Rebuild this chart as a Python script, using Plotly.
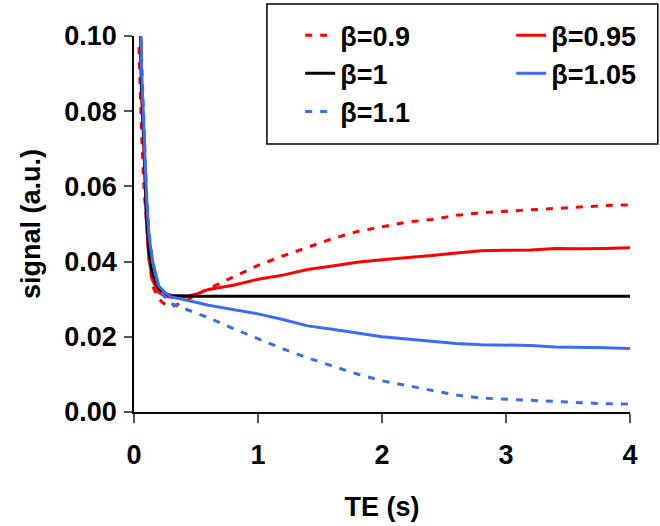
import plotly.graph_objects as go

te = [0.04, 0.06, 0.08, 0.1, 0.12, 0.15, 0.2, 0.25, 0.3, 0.4, 0.5, 0.6, 0.8, 1.0,
      1.2, 1.4, 1.6, 1.8, 2.0, 2.2, 2.4, 2.6, 2.8, 3.0, 3.2, 3.4, 3.6, 3.8, 4.0]

sig_b090 = [0.097, 0.075, 0.060, 0.049, 0.041, 0.0335, 0.030, 0.0286, 0.0280, 0.0292, 0.0312, 0.0328,
            0.0360, 0.0390, 0.0415, 0.0438, 0.0461, 0.0480, 0.0493, 0.0505, 0.0512, 0.0523, 0.0530,
            0.0534, 0.0539, 0.0541, 0.0547, 0.0549, 0.0551]
sig_b095 = [0.120, 0.085, 0.070, 0.051, 0.041, 0.035, 0.0318, 0.0308, 0.0305, 0.0306, 0.0313, 0.0326,
            0.0337, 0.0353, 0.0364, 0.0379, 0.0388, 0.0398, 0.0405, 0.0410, 0.0416, 0.0423, 0.0429,
            0.0430, 0.0431, 0.0435, 0.0434, 0.0435, 0.0437]
sig_b100 = [0.125, 0.088, 0.072, 0.053, 0.043, 0.0365, 0.0328, 0.0315, 0.0310, 0.0308, 0.0308, 0.0308,
            0.0308, 0.0308, 0.0308, 0.0308, 0.0308, 0.0308, 0.0308, 0.0308, 0.0308, 0.0308, 0.0308,
            0.0308, 0.0308, 0.0308, 0.0308, 0.0308, 0.0308]
sig_b105 = [0.130, 0.092, 0.075, 0.058, 0.047, 0.040, 0.0335, 0.0318, 0.0306, 0.0300, 0.0292, 0.0284,
            0.0272, 0.0261, 0.0246, 0.0229, 0.0220, 0.0209, 0.0200, 0.0194, 0.0187, 0.0182, 0.0179,
            0.0178, 0.0177, 0.0173, 0.0173, 0.0171, 0.0169]
sig_b110 = [0.135, 0.095, 0.077, 0.059, 0.048, 0.040, 0.033, 0.0305, 0.0288, 0.0276, 0.0264, 0.0251,
            0.0222, 0.0195, 0.0168, 0.0144, 0.0122, 0.0101, 0.0083, 0.0070, 0.0057, 0.0045, 0.0037,
            0.0034, 0.0030, 0.0026, 0.0024, 0.0022, 0.0021]

series_names = ["β=0.9", "β=0.95", "β=1", "β=1.05", "β=1.1"]
series_vals = [sig_b090, sig_b095, sig_b100, sig_b105, sig_b110]
colors = ["#ff0000", "#ff0000", "#000000", "#3a6cf4", "#3a6cf4"]
dashes = ["7px,8px", "solid", "solid", "solid", "7px,8px"]

x_ticks = [0, 1, 2, 3, 4]
y_ticks = [0.00, 0.02, 0.04, 0.06, 0.08, 0.10]
y_tick_labels = ["0.00", "0.02", "0.04", "0.06", "0.08", "0.10"]

FONT = "Liberation Sans, Arial, sans-serif"
FS = 27

fig = go.Figure()
for name, vals, col, dsh in zip(series_names, series_vals, colors, dashes):
    fig.add_trace(go.Scatter(x=te, y=vals, mode="lines", name=name,
                             line=dict(color=col, width=3, dash=dsh)))

fig.update_layout(
    width=660, height=526,
    margin=dict(l=134, r=30, t=36, b=114, autoexpand=False),
    paper_bgcolor="white", plot_bgcolor="white",
    font=dict(family=FONT, size=FS, color="black", weight="bold"),
    legend=dict(orientation="h", x=0.335, y=1.066, xanchor="left", yanchor="top",
                entrywidth=166, borderwidth=0, bgcolor="rgba(0,0,0,0)",
                font=dict(family=FONT, size=FS, weight="bold")),
    shapes=[dict(type="rect", xref="paper", yref="paper", x0=0.268, x1=1.056,
                 y0=0.713, y1=1.085, line=dict(color="black", width=1.5),
                 fillcolor="rgba(0,0,0,0)", layer="above")],
    xaxis=dict(range=[0, 4], tickvals=x_ticks, showgrid=False, zeroline=False,
               showline=True, linecolor="black", linewidth=1.5, automargin=False,
               ticks="outside", ticklen=9, tickwidth=1.5, tickcolor="#555",
               ticklabelstandoff=9,
               title=dict(text="TE (s)", standoff=28,
                          font=dict(family=FONT, size=FS, weight="bold"))),
    yaxis=dict(range=[0, 0.1], tickvals=y_ticks, ticktext=y_tick_labels, showgrid=False,
               zeroline=False, showline=True, linecolor="black", linewidth=1.5, automargin=False,
               ticks="outside", ticklen=8, tickwidth=1.5, tickcolor="#555",
               ticklabelstandoff=2,
               title=dict(text="signal (a.u.)", standoff=16,
                          font=dict(family=FONT, size=FS, weight="bold"))),
)

fig.write_html("out.html", config={"displayModeBar": False},
               post_script="document.body.style.margin='0px';")
